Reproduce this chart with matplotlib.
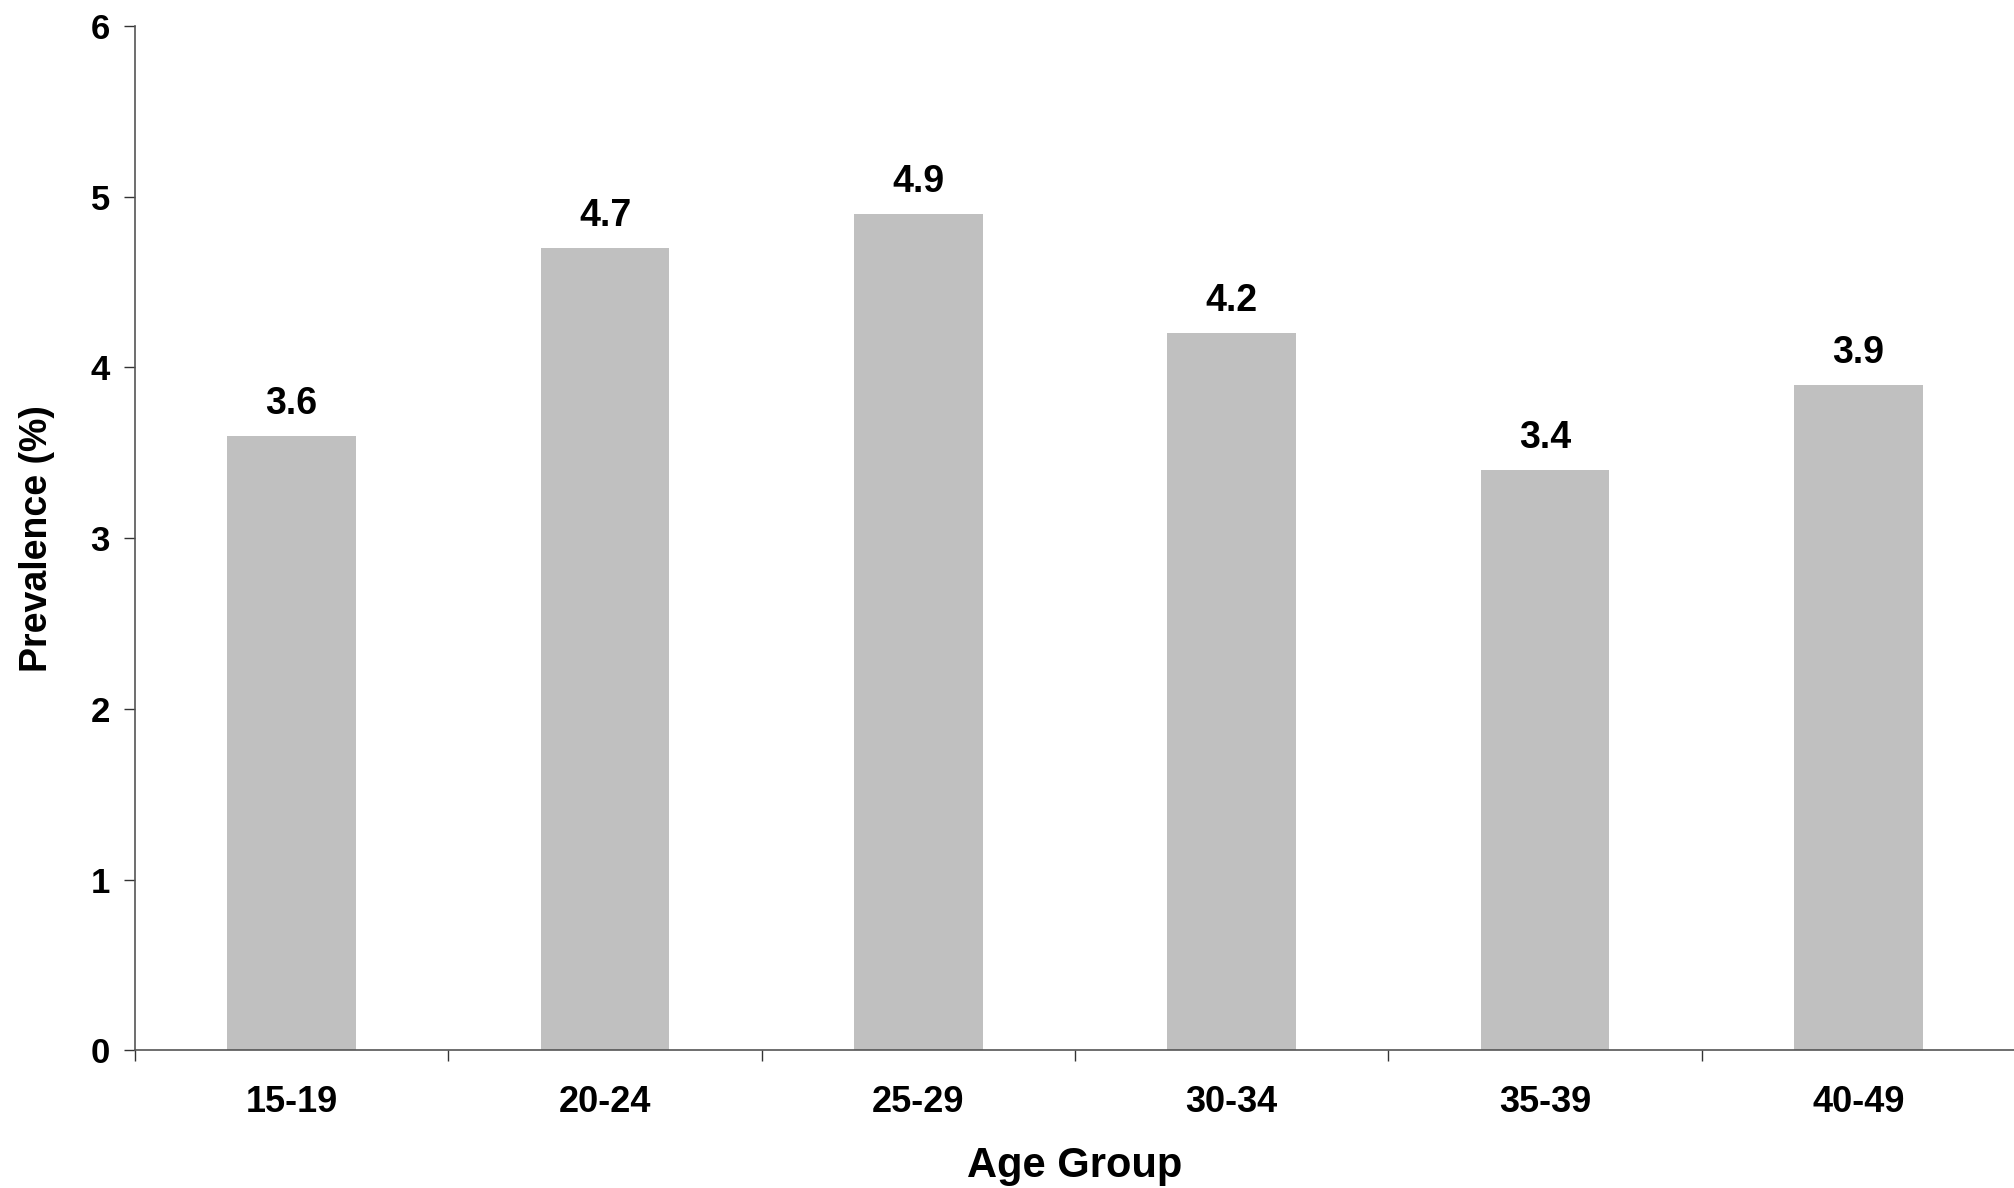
import numpy as np
import matplotlib.pyplot as plt

age_groups = ['15-19', '20-24', '25-29', '30-34', '35-39', '40-49']
prevalence = [3.6, 4.7, 4.9, 4.2, 3.4, 3.9]
y_ticks = [0, 1, 2, 3, 4, 5, 6]

plt.rcParams['font.family'] = ['Liberation Sans', 'DejaVu Sans']
plt.rcParams['font.weight'] = 'bold'

fig = plt.figure(figsize=(20.15, 11.88), dpi=100)
ax = fig.add_axes([0.067, 0.116, 0.933, 0.862])

x = np.arange(len(age_groups))
bars = ax.bar(x, prevalence, width=0.41, color='#c0c0c0', zorder=2)
for xi, v in zip(x, prevalence):
    ax.annotate('%.1f' % v, (xi, v), xytext=(0, 10), textcoords='offset points',
                ha='center', va='bottom', fontsize=27, fontweight='bold')

ax.set_xlim(-0.5, len(age_groups) - 0.5)
ax.set_ylim(0, 6)
ax.set_yticks(y_ticks)
ax.set_yticklabels([str(t) for t in y_ticks], fontsize=25, fontweight='bold')
ax.set_xticks(x)
ax.set_xticklabels(age_groups, fontsize=26, fontweight='bold')
ax.set_xticks(np.arange(len(age_groups) + 1) - 0.5, minor=True)
ax.tick_params(axis='x', which='major', length=0, pad=25)
ax.tick_params(axis='x', which='minor', length=8, width=1, color='#333333')
ax.tick_params(axis='y', length=8, width=1, color='#333333', pad=10)

for side in ['top', 'right']:
    ax.spines[side].set_visible(False)
for side in ['left', 'bottom']:
    ax.spines[side].set_color('#555555')
    ax.spines[side].set_linewidth(1.2)

ax.set_xlabel('Age Group', fontsize=30, fontweight='bold', labelpad=19)
ax.set_ylabel('Prevalence (%)', fontsize=27, fontweight='bold', labelpad=26)

fig.savefig('out.png', dpi=100)
